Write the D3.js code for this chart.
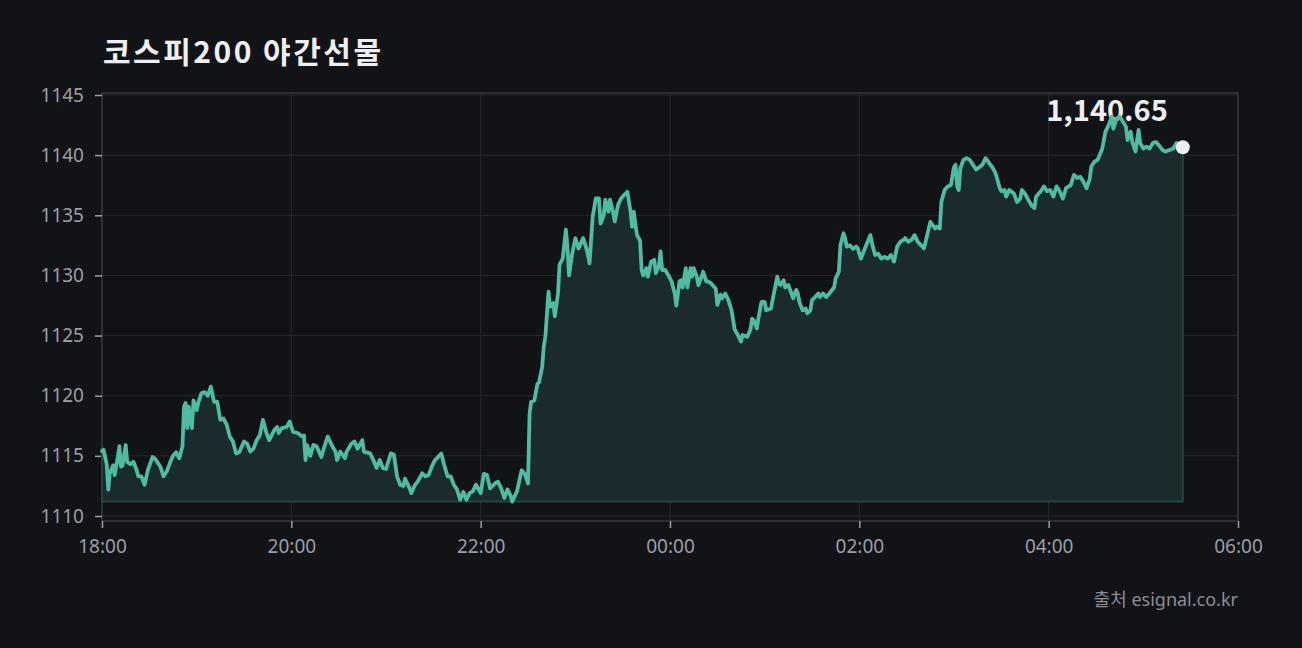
<!DOCTYPE html>
<html><head><meta charset="utf-8">
<script src="https://cdn.jsdelivr.net/npm/d3@7"></script>
<style>
html,body{margin:0;padding:0;background:#111317;}
svg{display:block;}
text{font-family:"Noto Sans CJK KR","Noto Sans",sans-serif;}
</style></head><body>
<svg id="chart" width="1302" height="648"></svg>
<script>
const title = "코스피200 야간선물";
const sourceText = "출처 esignal.co.kr";
const xTickLabels = ["18:00","20:00","22:00","00:00","02:00","04:00","06:00"];
const yTicks = [1110,1115,1120,1125,1130,1135,1140,1145];

const times = [
"18:00","18:01","18:03","18:04","18:05","18:07","18:08","18:10","18:11","18:12",
"18:13","18:15","18:16","18:18","18:20","18:22","18:23","18:25","18:27","18:29",
"18:32","18:34","18:37","18:39","18:41","18:43","18:45","18:47","18:49","18:51",
"18:52","18:53","18:54","18:55","18:57","18:58","19:00","19:01","19:03","19:05",
"19:07","19:09","19:11","19:13","19:15","19:17","19:19","19:21","19:23","19:25",
"19:27","19:30","19:32","19:34","19:36","19:38","19:40","19:42","19:44","19:46",
"19:49","19:51","19:52","19:54","19:57","19:59","20:01","20:04","20:07","20:08",
"20:09","20:10","20:12","20:14","20:16","20:19","20:21","20:23","20:26","20:28",
"20:29","20:31","20:34","20:35","20:38","20:40","20:42","20:45","20:46","20:50",
"20:52","20:54","20:56","20:58","21:00","21:03","21:05","21:07","21:09","21:11",
"21:12","21:15","21:16","21:18","21:20","21:23","21:25","21:27","21:29","21:31",
"21:33","21:35","21:37","21:39","21:41","21:43","21:45","21:47","21:49","21:51",
"21:53","21:55","21:57","22:00","22:02","22:04","22:06","22:09","22:11","22:13",
"22:15","22:17","22:19","22:20","22:23","22:26","22:28","22:30","22:31","22:32",
"22:34","22:36","22:37","22:39","22:40","22:41","22:43","22:44","22:46","22:47",
"22:49","22:50","22:52","22:54","22:55","22:56","22:58","23:00","23:02","23:05",
"23:07","23:08","23:09","23:11","23:13","23:15","23:16","23:18","23:19","23:21",
"23:22","23:24","23:25","23:27","23:29","23:31","23:33","23:35","23:36","23:37",
"23:39","23:41","23:42","23:43","23:45","23:46","23:48","23:50","23:51","23:53",
"23:54","23:55","23:57","23:59","00:01","00:03","00:04","00:06","00:07","00:08",
"00:10","00:11","00:13","00:14","00:15","00:17","00:18","00:20","00:21","00:23",
"00:24","00:26","00:29","00:30","00:32","00:33","00:35","00:37","00:39","00:40",
"00:41","00:43","00:45","00:46","00:49","00:51","00:52","00:53","00:55","00:56",
"00:58","01:00","01:01","01:04","01:05","01:08","01:09","01:10","01:12","01:13",
"01:15","01:17","01:18","01:20","01:21","01:22","01:24","01:26","01:27","01:29",
"01:30","01:32","01:34","01:35","01:37","01:39","01:41","01:44","01:45","01:47",
"01:48","01:50","01:51","01:52","01:54","01:56","01:58","01:59","02:01","02:04",
"02:07","02:08","02:10","02:12","02:14","02:16","02:18","02:20","02:22","02:24",
"02:26","02:28","02:29","02:31","02:33","02:35","02:37","02:41","02:43","02:45",
"02:48","02:49","02:51","02:52","02:54","02:56","02:58","03:00","03:01","03:02",
"03:03","03:04","03:06","03:08","03:10","03:12","03:14","03:15","03:18","03:20",
"03:21","03:23","03:24","03:26","03:27","03:29","03:30","03:32","03:33","03:35",
"03:38","03:40","03:42","03:43","03:45","03:47","03:49","03:51","03:52","03:55",
"03:57","03:59","04:01","04:03","04:05","04:07","04:09","04:11","04:14","04:16",
"04:18","04:20","04:22","04:24","04:26","04:27","04:29","04:31","04:34","04:36",
"04:38","04:40","04:41","04:43","04:45","04:47","04:49","04:50","04:52","04:53",
"04:55","04:57","04:58","05:00","05:02","05:04","05:06","05:08","05:10","05:12",
"05:14","05:17","05:19","05:21","05:23","05:25"
];

const values = [
1115.4,1115.5,1114.3,1112.2,1113.6,1114.2,1113.4,1114.9,1115.8,1114.1,
1114.2,1115.9,1114.5,1114.3,1114.5,1113.8,1113.3,1113.3,1112.6,1113.8,
1114.9,1114.7,1114.1,1113.3,1113.7,1114.4,1115.0,1115.3,1114.8,1115.8,
1119.1,1119.4,1117.3,1119.1,1117.3,1119.6,1118.8,1119.4,1120.2,1120.3,
1120.0,1120.75,1119.5,1119.5,1118.0,1118.1,1117.6,1116.6,1116.2,1115.2,
1115.3,1116.2,1116.0,1115.35,1115.6,1116.3,1116.7,1118.0,1117.0,1116.3,
1117.1,1117.4,1116.9,1117.3,1117.4,1117.85,1117.0,1116.9,1116.6,1116.7,
1114.65,1115.9,1115.0,1115.9,1115.8,1114.9,1115.8,1116.6,1115.8,1115.35,
1114.65,1115.35,1114.8,1115.35,1116.0,1116.2,1115.6,1116.3,1115.35,1115.2,
1114.65,1114.0,1114.65,1114.0,1113.9,1115.2,1115.1,1113.3,1112.6,1112.5,
1113.1,1112.3,1111.9,1112.5,1112.85,1113.55,1113.3,1113.4,1114.1,1114.65,
1114.9,1115.2,1114.2,1113.3,1113.3,1112.6,1112.2,1111.35,1112.0,1111.35,
1111.9,1112.05,1112.6,1111.9,1113.5,1113.4,1112.3,1112.7,1112.85,1112.3,
1111.5,1112.2,1111.7,1111.2,1112.05,1113.8,1113.5,1112.7,1118.5,1119.5,
1119.6,1121.0,1121.1,1122.4,1124.1,1124.9,1128.65,1127.4,1127.7,1126.6,
1128.5,1130.9,1131.4,1133.8,1132.4,1130.0,1131.8,1133.1,1132.25,1133.1,
1132.25,1131.7,1131.0,1134.9,1136.4,1136.4,1134.3,1135.0,1136.3,1135.3,
1136.3,1135.2,1134.5,1135.85,1136.4,1136.7,1136.95,1135.3,1134.05,1135.3,
1133.4,1132.9,1130.45,1130.0,1130.6,1129.9,1131.15,1131.3,1130.2,1130.8,
1132.0,1130.45,1130.45,1130.0,1129.5,1128.5,1127.5,1129.5,1129.6,1129.0,
1130.6,1129.0,1130.6,1129.9,1130.6,1129.9,1129.2,1129.9,1130.3,1129.5,
1129.5,1129.35,1128.9,1127.55,1128.4,1128.1,1128.5,1127.95,1127.1,1126.3,
1125.5,1125.05,1124.5,1125.05,1124.9,1125.5,1126.4,1126.3,1125.6,1126.4,
1127.8,1127.8,1127.1,1127.25,1127.95,1129.9,1129.3,1129.2,1129.6,1129.0,
1129.2,1128.5,1128.1,1128.8,1128.5,1127.8,1127.1,1127.25,1126.85,1127.1,
1127.95,1128.2,1128.5,1128.2,1128.5,1128.2,1128.5,1129.0,1129.75,1130.3,
1132.5,1133.5,1133.1,1132.4,1132.5,1132.2,1132.4,1132.25,1131.4,1132.4,
1133.35,1132.7,1131.7,1131.8,1131.4,1131.55,1131.4,1131.7,1131.15,1132.4,
1132.8,1132.95,1133.1,1132.8,1132.95,1133.35,1132.8,1132.25,1133.35,1134.45,
1133.9,1134.05,1133.9,1136.1,1137.1,1137.4,1137.5,1139.0,1139.2,1137.4,
1137.1,1138.9,1139.6,1139.75,1139.6,1139.2,1138.8,1138.9,1139.2,1139.75,
1139.6,1139.2,1139.05,1138.6,1138.2,1137.25,1137.0,1137.1,1136.55,1137.1,
1136.8,1136.1,1136.4,1137.1,1136.8,1136.3,1135.85,1135.6,1136.55,1137.0,
1137.4,1137.0,1137.1,1136.55,1137.4,1137.0,1136.4,1137.25,1137.5,1138.35,
1138.1,1138.2,1137.8,1137.25,1138.0,1139.05,1139.45,1139.6,1140.55,1141.95,
1142.5,1143.2,1142.2,1143.05,1143.2,1142.8,1142.35,1141.25,1141.95,1141.1,
1140.3,1142.1,1141.0,1140.55,1140.7,1140.55,1141.0,1141.1,1140.8,1140.45,
1140.3,1140.45,1140.55,1141.0,1140.7,1140.65
];

function parseT(s){
  const [h,m] = s.split(":").map(Number);
  return new Date(2024, 0, h >= 12 ? 1 : 2, h, m);
}

const data = times.map((t,i)=>({t:parseT(t), v:values[i]}));
if (times.length !== values.length) console.error("length mismatch", times.length, values.length);

const W = 1302, H = 648;
const plot = {left:102, right:1238, top:93, bottom:521};
const latin = '"Noto Sans","Noto Sans CJK KR",sans-serif';

const svg = d3.select("#chart");
svg.append("rect").attr("width",W).attr("height",H).attr("fill","#111317");

const x = d3.scaleTime()
  .domain([parseT(xTickLabels[0]), parseT(xTickLabels[xTickLabels.length-1])])
  .range([plot.left, plot.right]);
const y = d3.scaleLinear()
  .domain([1109.584, 1145.166])
  .range([plot.bottom, plot.top]);

// grid
const grid = svg.append("g");
grid.selectAll("line.h").data(yTicks).join("line")
  .attr("x1",plot.left).attr("x2",plot.right)
  .attr("y1",d=>y(d)).attr("y2",d=>y(d))
  .attr("stroke","#26292f").attr("stroke-width",1);
grid.selectAll("line.v").data(xTickLabels.map(parseT)).join("line")
  .attr("y1",plot.top).attr("y2",plot.bottom)
  .attr("x1",d=>x(d)).attr("x2",d=>x(d))
  .attr("stroke","#26292f").attr("stroke-width",1);

// frame
svg.append("rect")
  .attr("x",plot.left).attr("y",plot.top)
  .attr("width",plot.right-plot.left).attr("height",plot.bottom-plot.top)
  .attr("fill","none").attr("stroke","#35383f").attr("stroke-width",1.5);

// axes
const yAxis = d3.axisLeft(y).tickValues(yTicks).tickSize(7).tickPadding(11).tickFormat(d3.format("d"));
const gy = svg.append("g").attr("transform",`translate(${plot.left},0)`).call(yAxis);
gy.select(".domain").remove();
gy.selectAll(".tick line").attr("stroke","#9a9ea6").attr("stroke-width",1.5);
gy.selectAll(".tick text").attr("fill","#9a9ea6").style("font-size","19px")
  .style("font-family",latin);

const xAxis = d3.axisBottom(x).tickValues(xTickLabels.map(parseT))
  .tickFormat((d,i)=>xTickLabels[i]).tickSize(7).tickPadding(12);
const gx = svg.append("g").attr("transform",`translate(0,${plot.bottom})`).call(xAxis);
gx.select(".domain").remove();
gx.selectAll(".tick line").attr("stroke","#9a9ea6").attr("stroke-width",1.5);
gx.selectAll(".tick text").attr("fill","#9a9ea6").style("font-size","19px")
  .style("font-family",latin);

// area
const baseVal = d3.min(values);
const area = d3.area().x(d=>x(d.t)).y0(y(baseVal)).y1(d=>y(d.v));
svg.append("path").datum(data).attr("d",area)
  .attr("fill","#1a2a2d")
  .attr("stroke","#25453f").attr("stroke-width",2);

// last value label
const last = data[data.length-1];
svg.append("text")
  .attr("x", x(last.t) - 15).attr("y", y(last.v) - 26)
  .attr("text-anchor","end")
  .attr("fill","#eeeff2").style("font-size","29px").style("font-weight","700")
  .text(d3.format(",.2f")(last.v));

// line
const line = d3.line().x(d=>x(d.t)).y(d=>y(d.v));
svg.append("path").datum(data).attr("d",line)
  .attr("fill","none").attr("stroke","#4fbba1").attr("stroke-width",3.8)
  .attr("stroke-linejoin","round").attr("stroke-linecap","round");

// end marker
svg.append("circle").attr("cx",x(last.t)).attr("cy",y(last.v)).attr("r",7)
  .attr("fill","#eceef2");

// title
svg.append("text").attr("x",103).attr("y",63)
  .attr("fill","#eeeff2").style("font-size","30px").style("font-weight","700")
  .attr("textLength",278).attr("lengthAdjust","spacing")
  .text(title);

// source
svg.append("text").attr("x",1238).attr("y",606).attr("text-anchor","end")
  .attr("fill","#8a8d94").style("font-size","18px").style("font-family",latin)
  .text(sourceText);
</script>
</body></html>
